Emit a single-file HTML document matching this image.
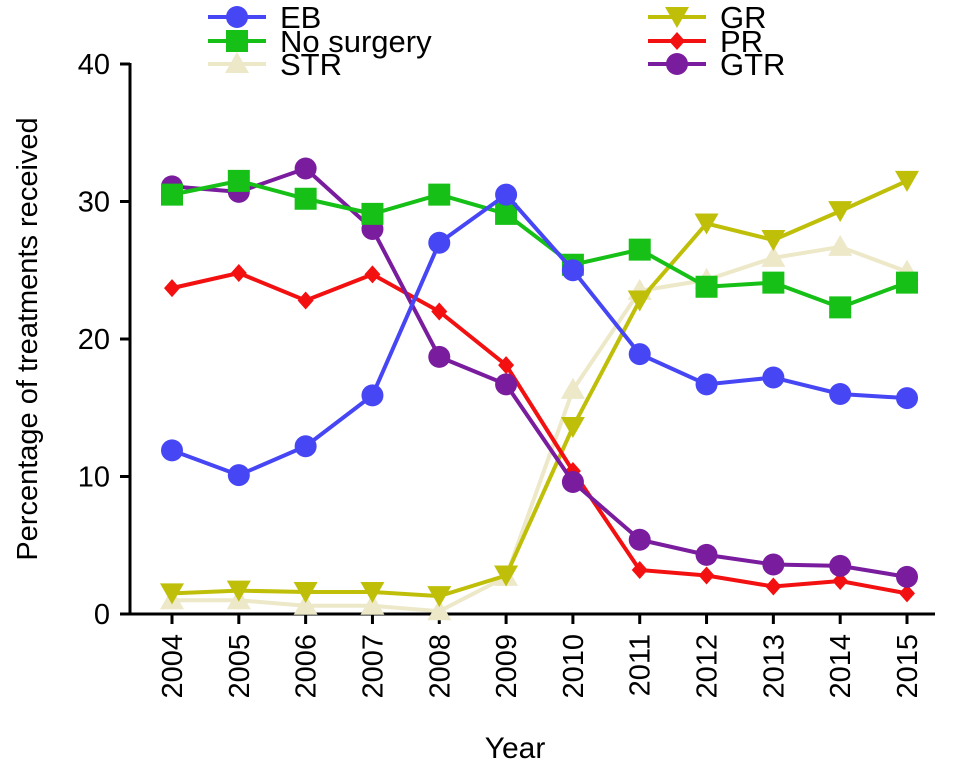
<!DOCTYPE html>
<html><head><meta charset="utf-8"><style>
body{margin:0;background:#fff;}
svg{display:block;font-family:"Liberation Sans",Arial,sans-serif;}
</style></head><body>
<svg id="chart" width="969" height="774"></svg>
<script>
const years=[2004,2005,2006,2007,2008,2009,2010,2011,2012,2013,2014,2015];
const yTicks=[0,10,20,30,40];
const ebVals=[11.9,10.1,12.2,15.9,27.0,30.5,25.0,18.9,16.7,17.2,16.0,15.7];
const noSurgeryVals=[30.5,31.5,30.2,29.1,30.5,29.1,25.4,26.5,23.8,24.1,22.3,24.1];
const strVals=[1.0,1.0,0.6,0.6,0.2,2.7,16.3,23.5,24.3,25.9,26.7,24.9];
const grVals=[1.5,1.7,1.6,1.6,1.3,2.8,13.6,22.8,28.4,27.2,29.3,31.5];
const prVals=[23.7,24.8,22.8,24.7,22.0,18.1,10.4,3.2,2.8,2.0,2.4,1.5];
const gtrVals=[31.1,30.7,32.4,28.0,18.7,16.7,9.6,5.4,4.3,3.6,3.5,2.7];
const seriesNames=["STR","GR","PR","GTR","No surgery","EB"];

const NS="http://www.w3.org/2000/svg";
const svg=document.getElementById('chart');
const x0=172,x1=907,yb=614,yt=64;
const xs=i=>x0+(x1-x0)*i/(years.length-1);
const ys=v=>yb-(yb-yt)*v/40;
function mk(t,a,p){const e=document.createElementNS(NS,t);for(const k in a)e.setAttribute(k,a[k]);(p||svg).appendChild(e);return e;}

let e=mk('line',{x1:130,y1:yt-1,x2:130,y2:yb+1.5,stroke:'#000','stroke-width':3});


e=mk('line',{x1:128.5,y1:yb,x2:935,y2:yb,stroke:'#000','stroke-width':3});


yTicks.forEach(v=>{
  mk('line',{x1:120,y1:ys(v),x2:130,y2:ys(v),stroke:'#000','stroke-width':3});
  const t=mk('text',{x:110,y:ys(v)+10,'text-anchor':'end','font-size':29});
  t.textContent=v;
  
  
});
years.forEach((y,i)=>{
  mk('line',{x1:xs(i),y1:yb,x2:xs(i),y2:yb+10,stroke:'#000','stroke-width':3});
  const t=mk('text',{x:0,y:0,'text-anchor':'end','font-size':29,transform:`translate(${xs(i)+10},${yb+20}) rotate(-90)`});
  t.textContent=y;
  
  
});
e=mk('text',{x:515,y:758,'text-anchor':'middle','font-size':30});
e.textContent='Year';


e=mk('text',{x:0,y:0,'text-anchor':'middle','font-size':29,transform:'translate(37,339) rotate(-90)'});
e.textContent='Percentage of treatments received';



function marker(shape,cx,cy,color,g){
  if(shape==='circle')return mk('circle',{cx,cy,r:11,fill:color},g);
  if(shape==='square')return mk('rect',{x:cx-11,y:cy-11,width:22,height:22,fill:color},g);
  if(shape==='up')return mk('polygon',{points:`${cx},${cy-12} ${cx-12},${cy+9} ${cx+12},${cy+9}`,fill:color},g);
  if(shape==='down')return mk('polygon',{points:`${cx},${cy+11} ${cx-12},${cy-10} ${cx+12},${cy-10}`,fill:color},g);
  if(shape==='diamond')return mk('polygon',{points:`${cx},${cy-9} ${cx+8},${cy} ${cx},${cy+9} ${cx-8},${cy}`,fill:color},g);
}
const defs=[
 {name:'str',label:'STR',vals:strVals,color:'#ece8c8',shape:'up',lx:212,ly:64},
 {name:'gr',label:'GR',vals:grVals,color:'#bfbf0a',shape:'down',lx:652,ly:17},
 {name:'pr',label:'PR',vals:prVals,color:'#f31010',shape:'diamond',lx:652,ly:41},
 {name:'gtr',label:'GTR',vals:gtrVals,color:'#7a1c9e',shape:'circle',lx:652,ly:64},
 {name:'no-surgery',label:'No surgery',vals:noSurgeryVals,color:'#16c016',shape:'square',lx:212,ly:41},
 {name:'eb',label:'EB',vals:ebVals,color:'#4646f5',shape:'circle',lx:212,ly:17},
];
defs.forEach(d=>{
  const g=mk('g',{});
  
  
  const pts=d.vals.map((v,i)=>xs(i)+','+ys(v)).join(' ');
  mk('polyline',{points:pts,fill:'none',stroke:d.color,'stroke-width':4},g);
  d.vals.forEach((v,i)=>{
    const m=marker(d.shape,xs(i),ys(v),d.color,g);
    
    
  });
  const lg=mk('g',{});
  
  
  mk('line',{x1:d.lx-4,y1:d.ly,x2:d.lx+54,y2:d.ly,stroke:d.color,'stroke-width':4},lg);
  marker(d.shape,d.lx+25,d.ly,d.color,lg);
  const t=mk('text',{x:d.lx+68,y:d.ly+11,'font-size':31},lg);
  t.textContent=d.label;
});
</script>
</body></html>
